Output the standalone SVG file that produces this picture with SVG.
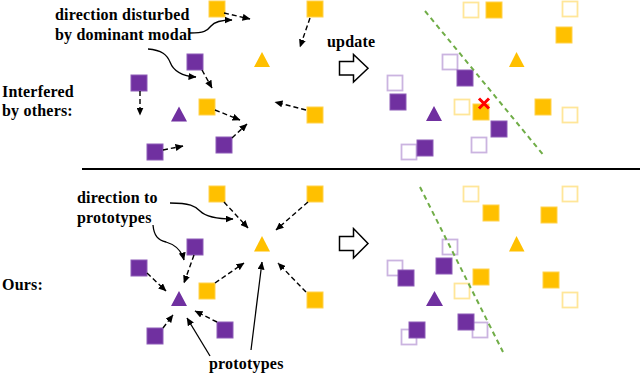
<svg xmlns="http://www.w3.org/2000/svg" width="640" height="374" viewBox="0 0 640 374">
<defs>
<marker id="ah" markerUnits="userSpaceOnUse" markerWidth="8" markerHeight="7" refX="7.5" refY="3.5" orient="auto">
<path d="M0,0 L8,3.5 L0,7 z" fill="#000"/>
</marker>
</defs>
<style>
.t{font-family:"Liberation Serif","Times New Roman",serif;font-weight:bold;font-size:16px;letter-spacing:0.2px;fill:#000}
.ys{fill:#FFC000;stroke:#FFD24D;stroke-width:1}
.ps{fill:#7030A0;stroke:#8E5CB8;stroke-width:1}
.yh{fill:none;stroke:#FFE699;stroke-width:1.8}
.ph{fill:none;stroke:#CBB4E0;stroke-width:1.8}
.yt{fill:#FFC000}
.pt{fill:#7030A0}
.da{fill:none;stroke:#000;stroke-width:1.4;stroke-dasharray:5 3;marker-end:url(#ah)}
.sa{fill:none;stroke:#000;stroke-width:1.3;marker-end:url(#ah)}
.blk{fill:#fff;stroke:#000;stroke-width:1.5;stroke-linejoin:miter}
.gl{fill:none;stroke:#70AD47;stroke-width:2;stroke-dasharray:5 4}
</style>
<rect width="640" height="374" fill="#fff"/>

<g id="labels">
<text class="t" x="55" y="19.5">direction disturbed</text>
<text class="t" x="55" y="39.5">by dominant modal</text>
<text class="t" x="2" y="97">Interfered</text>
<text class="t" x="2" y="116">by others:</text>
<text class="t" x="327" y="47">update</text>
<text class="t" x="77" y="203">direction to</text>
<text class="t" x="77" y="222.5">prototypes</text>
<text class="t" x="2" y="289.5">Ours:</text>
<text class="t" x="209" y="369">prototypes</text>
</g>

<line id="divider" x1="82" y1="169" x2="640" y2="169" stroke="#000" stroke-width="2"/>

<g id="update-arrow-top"><path class="blk" d="M339.5,61.5 H353.5 V54.5 L368,68.3 L353.5,82 V75 H339.5 Z"/></g>
<g id="update-arrow-bottom"><path class="blk" d="M339.5,236.5 H353.5 V228.5 L368,243.5 L353.5,258 V250.5 H339.5 Z"/></g>

<!-- top-left nodes -->
<g id="tl-y1"><rect class="ys" x="209" y="1" width="16" height="16"/></g>
<g id="tl-y2"><rect class="ys" x="307" y="1" width="16" height="16"/></g>
<g id="tl-p1"><rect class="ps" x="187" y="54" width="16" height="16"/></g>
<g id="tl-p2"><rect class="ps" x="131" y="75" width="16" height="16"/></g>
<g id="tl-y3"><rect class="ys" x="199" y="99" width="16" height="16"/></g>
<g id="tl-y4"><rect class="ys" x="307" y="107" width="16" height="16"/></g>
<g id="tl-p3"><rect class="ps" x="147" y="144" width="16" height="16"/></g>
<g id="tl-p4"><rect class="ps" x="216" y="137" width="16" height="16"/></g>
<g id="tl-yt"><polygon class="yt" points="262,52 254,67 270,67"/></g>
<g id="tl-pt"><polygon class="pt" points="179,106.5 171,121.5 187,121.5"/></g>

<!-- top-right nodes -->
<g id="tr-hollow">
<rect class="yh" x="463.5" y="2.5" width="15" height="15"/>
<rect class="yh" x="562.5" y="1.5" width="15" height="15"/>
<rect class="ph" x="442.5" y="54.5" width="15" height="15"/>
<rect class="ph" x="387.5" y="75.5" width="15" height="15"/>
<rect class="yh" x="454.5" y="99.5" width="15" height="15"/>
<rect class="yh" x="562.5" y="107.5" width="15" height="15"/>
<rect class="ph" x="471.5" y="137.5" width="15" height="15"/>
<rect class="ph" x="401.5" y="144.5" width="15" height="15"/>
</g>
<g id="tr-y1"><rect class="ys" x="486" y="2" width="16" height="16"/></g>
<g id="tr-y2"><rect class="ys" x="556" y="27" width="16" height="16"/></g>
<g id="tr-p1"><rect class="ps" x="457" y="70" width="16" height="16"/></g>
<g id="tr-p2"><rect class="ps" x="390" y="94" width="16" height="16"/></g>
<g id="tr-y3"><rect class="ys" x="473" y="104" width="16" height="16"/></g>
<g id="tr-y4"><rect class="ys" x="535" y="99" width="16" height="16"/></g>
<g id="tr-p3"><rect class="ps" x="491" y="121" width="16" height="16"/></g>
<g id="tr-p4"><rect class="ps" x="417" y="140" width="16" height="16"/></g>
<g id="tr-yt"><polygon class="yt" points="516.5,52 509,67 524.5,67"/></g>
<g id="tr-pt"><polygon class="pt" points="434,106 426,121 442,121"/></g>
<g id="tr-x"><path d="M479,98.5 L489,108.5 M489,98.5 L479,108.5" stroke="#FF0000" stroke-width="3"/></g>
<line id="tr-boundary" class="gl" x1="425" y1="11" x2="545" y2="157"/>

<!-- bottom-left nodes -->
<g id="bl-y1"><rect class="ys" x="209" y="186" width="16" height="16"/></g>
<g id="bl-y2"><rect class="ys" x="307" y="186" width="16" height="16"/></g>
<g id="bl-p1"><rect class="ps" x="187" y="239" width="16" height="16"/></g>
<g id="bl-p2"><rect class="ps" x="131" y="260" width="16" height="16"/></g>
<g id="bl-y3"><rect class="ys" x="199" y="283" width="16" height="16"/></g>
<g id="bl-y4"><rect class="ys" x="307" y="292" width="16" height="16"/></g>
<g id="bl-p3"><rect class="ps" x="147" y="328" width="16" height="16"/></g>
<g id="bl-p4"><rect class="ps" x="217" y="322" width="16" height="16"/></g>
<g id="bl-yt"><polygon class="yt" points="262,236 254,251.5 270,251.5"/></g>
<g id="bl-pt"><polygon class="pt" points="179,291 171,306 187,306"/></g>

<!-- bottom-right nodes -->
<g id="br-hollow">
<rect class="yh" x="463.5" y="186.5" width="15" height="15"/>
<rect class="yh" x="562.5" y="186.5" width="15" height="15"/>
<rect class="ph" x="442.5" y="239.5" width="15" height="15"/>
<rect class="ph" x="387.5" y="260.5" width="15" height="15"/>
<rect class="yh" x="454.5" y="283.5" width="15" height="15"/>
<rect class="yh" x="562.5" y="292.5" width="15" height="15"/>
<rect class="ph" x="472.5" y="322.5" width="15" height="15"/>
<rect class="ph" x="401.5" y="329.5" width="15" height="15"/>
</g>
<g id="br-y1"><rect class="ys" x="483" y="205" width="16" height="16"/></g>
<g id="br-y2"><rect class="ys" x="541" y="207" width="16" height="16"/></g>
<g id="br-p1"><rect class="ps" x="436" y="258" width="16" height="16"/></g>
<g id="br-p2"><rect class="ps" x="398" y="270" width="16" height="16"/></g>
<g id="br-y3"><rect class="ys" x="473" y="269" width="16" height="16"/></g>
<g id="br-y4"><rect class="ys" x="543" y="272" width="16" height="16"/></g>
<g id="br-p3"><rect class="ps" x="458" y="314" width="16" height="16"/></g>
<g id="br-p4"><rect class="ps" x="409" y="322" width="16" height="16"/></g>
<g id="br-yt"><polygon class="yt" points="516.5,236 509,251.5 524.5,251.5"/></g>
<g id="br-pt"><polygon class="pt" points="434.5,291 426,306 443,306"/></g>
<line id="br-boundary" class="gl" x1="420" y1="187" x2="503" y2="352"/>

<g id="connectors">
<!-- top-left dashed -->
<line class="da" x1="224" y1="13" x2="250" y2="19"/>
<line class="da" x1="310" y1="18" x2="300" y2="47"/>
<line class="da" x1="202" y1="70" x2="212" y2="88"/>
<line class="da" x1="140" y1="91" x2="140" y2="115"/>
<line class="da" x1="215" y1="110" x2="240" y2="120"/>
<line class="da" x1="306" y1="110" x2="275" y2="102"/>
<line class="da" x1="163" y1="150" x2="183" y2="146"/>
<line class="da" x1="232" y1="138" x2="247" y2="124"/>
<!-- top-left solid curves -->
<path class="sa" d="M190,33 C204,33 207,31 211,26 C215,21 222,20 232,20"/>
<path class="sa" d="M148,49 C162,50 167,55 170,62 C173,70 180,76 196,77"/>
<!-- bottom-left dashed -->
<line class="da" x1="224" y1="202" x2="248" y2="228"/>
<line class="da" x1="308" y1="202" x2="276" y2="230"/>
<line class="da" x1="194" y1="255" x2="184" y2="283"/>
<line class="da" x1="147" y1="273" x2="166" y2="291"/>
<line class="da" x1="215" y1="283" x2="244" y2="263"/>
<line class="da" x1="306" y1="292" x2="278" y2="263"/>
<line class="da" x1="163" y1="328" x2="173" y2="315"/>
<line class="da" x1="217" y1="322" x2="195" y2="311"/>
<!-- bottom-left solid -->
<path class="sa" d="M170,203 C190,203 195,206 200,211 C205,216 215,219 233,219"/>
<path class="sa" d="M153,225 C154,236 158,240 166,242 C176,245 182,252 184,260"/>
<line class="sa" x1="210" y1="356" x2="187" y2="318"/>
<line class="sa" x1="251" y1="350" x2="262" y2="262"/>
</g>
</svg>
